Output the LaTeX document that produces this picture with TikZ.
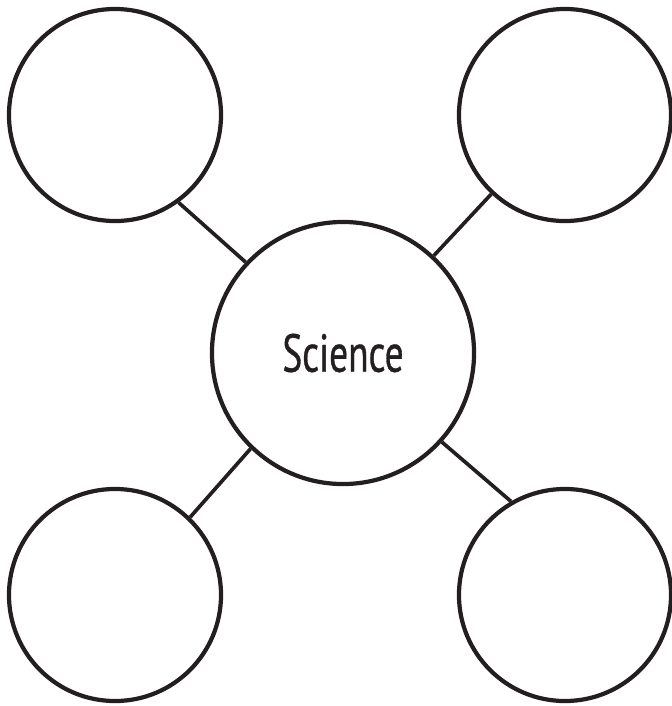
\documentclass[tikz,border=0pt]{standalone}
\usepackage{fontspec}
\newfontfamily\bubblefont[FakeStretch=0.7,FakeBold=0.6]{PT Sans}
\definecolor{WebInk}{HTML}{231F20}

\begin{document}
\begin{tikzpicture}[x=0.025cm,y=-0.025cm,line cap=round,line join=round,
  bubble/.style={circle,draw=WebInk,line width=3pt,minimum size=5.3cm,inner sep=0pt},
  hub/.style={bubble,minimum size=6.55cm,font=\bubblefont\fontsize{38}{40}\selectfont,text=WebInk},
  link/.style={draw=WebInk,line width=2.6pt,line cap=butt}]
  \useasboundingbox (0,0) rectangle (672,706);
  \node[hub] (sci) at (343,353) {Science};
  \node[bubble] (tl) at (115,115) {};\node[bubble] (tr) at (565,115) {};
  \node[bubble] (bl) at (115,595) {};\node[bubble] (br) at (565,595) {};
  \draw[link] (tl.-54)--(sci.137);\draw[link] (tr.227)--(sci.47);
  \draw[link] (bl.46)--(sci.226);\draw[link] (br.120)--(sci.-42);
\end{tikzpicture}
\end{document}
